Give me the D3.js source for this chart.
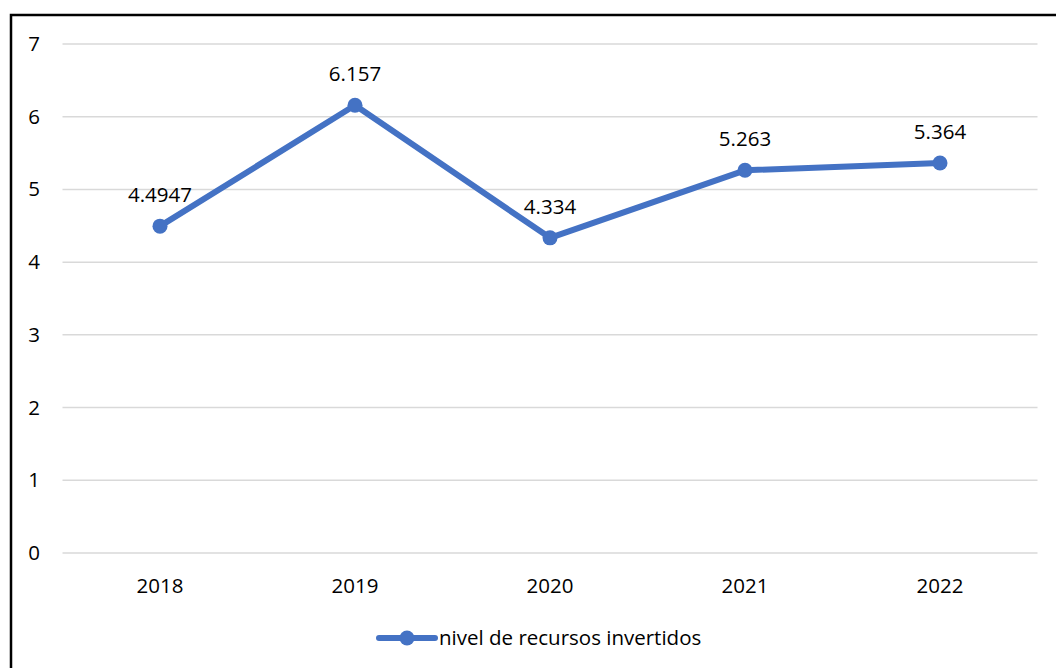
<!DOCTYPE html>
<html>
<head>
<meta charset="utf-8">
<script src="https://cdn.jsdelivr.net/npm/d3@7"></script>
<style>
  html, body { margin: 0; padding: 0; background: #fff; }
  svg { display: block; }
  text { font-family: "Open Sans", "Noto Sans", sans-serif; fill: #000; }
</style>
</head>
<body>
<svg id="chart" width="1056" height="668"></svg>
<script>
// Series data
const years = ["2018", "2019", "2020", "2021", "2022"];
const values = [4.4947, 6.157, 4.334, 5.263, 5.364];
const valueLabels = ["4.4947", "6.157", "4.334", "5.263", "5.364"];
const yTicks = [0, 1, 2, 3, 4, 5, 6, 7];
const seriesName = "nivel de recursos invertidos";

const blue = "#4472C4";
const fontSize = 20.5;
const svg = d3.select("#chart");

// Outer frame
svg.append("rect")
  .attr("x", 11).attr("y", 15)
  .attr("width", 1100).attr("height", 700)
  .attr("fill", "#fff")
  .attr("stroke", "#000").attr("stroke-width", 2.5);

const plot = { left: 62.5, right: 1037.5, top: 44, bottom: 553 };

const x = d3.scaleBand().domain(years).range([plot.left, plot.right]);
const y = d3.scaleLinear().domain([0, 7]).range([plot.bottom, plot.top]);

// Horizontal gridlines
svg.append("g")
  .selectAll("line")
  .data(yTicks)
  .join("line")
  .attr("x1", plot.left).attr("x2", plot.right)
  .attr("y1", d => y(d)).attr("y2", d => y(d))
  .attr("stroke", "#d9d9d9").attr("stroke-width", 1.5);

// Y axis labels
const yAxis = d3.axisLeft(y).tickValues(yTicks).tickSize(0).tickPadding(0).tickFormat(d3.format("d"));
svg.append("g")
  .attr("transform", `translate(${40},0)`)
  .call(yAxis)
  .call(g => g.select(".domain").remove())
  .call(g => g.selectAll("text").attr("font-size", fontSize).attr("font-family", '"Open Sans", sans-serif').attr("fill", "#000"));

// X axis labels
const xAxis = d3.axisBottom(x).tickSize(0).tickPadding(0);
svg.append("g")
  .attr("transform", `translate(0,${578})`)
  .call(xAxis)
  .call(g => g.select(".domain").remove())
  .call(g => g.selectAll("text").attr("font-size", fontSize).attr("font-family", '"Open Sans", sans-serif').attr("fill", "#000"));

const cx = d => x(d) + x.bandwidth() / 2;

// Series line
const line = d3.line()
  .x((d, i) => cx(years[i]))
  .y(d => y(d));

svg.append("path")
  .datum(values)
  .attr("d", line)
  .attr("fill", "none")
  .attr("stroke", blue)
  .attr("stroke-width", 6)
  .attr("stroke-linejoin", "round")
  .attr("stroke-linecap", "round");

// Markers
svg.append("g")
  .selectAll("circle")
  .data(values)
  .join("circle")
  .attr("cx", (d, i) => cx(years[i]))
  .attr("cy", d => y(d))
  .attr("r", 7.5)
  .attr("fill", blue);

// Value labels
svg.append("g")
  .selectAll("text")
  .data(values)
  .join("text")
  .attr("x", (d, i) => cx(years[i]))
  .attr("y", d => y(d) - 24)
  .attr("text-anchor", "middle")
  .attr("font-size", fontSize)
  .text((d, i) => valueLabels[i]);

// Legend
const legend = svg.append("g").attr("transform", "translate(379,638)");
legend.append("line")
  .attr("x1", 0).attr("x2", 56)
  .attr("y1", 0).attr("y2", 0)
  .attr("stroke", blue).attr("stroke-width", 6)
  .attr("stroke-linecap", "round");
legend.append("circle")
  .attr("cx", 28).attr("cy", 0).attr("r", 7.5)
  .attr("fill", blue);
legend.append("text")
  .attr("x", 60).attr("y", 0)
  .attr("dy", "0.35em")
  .attr("font-size", fontSize)
  .text(seriesName);
</script>
</body>
</html>
